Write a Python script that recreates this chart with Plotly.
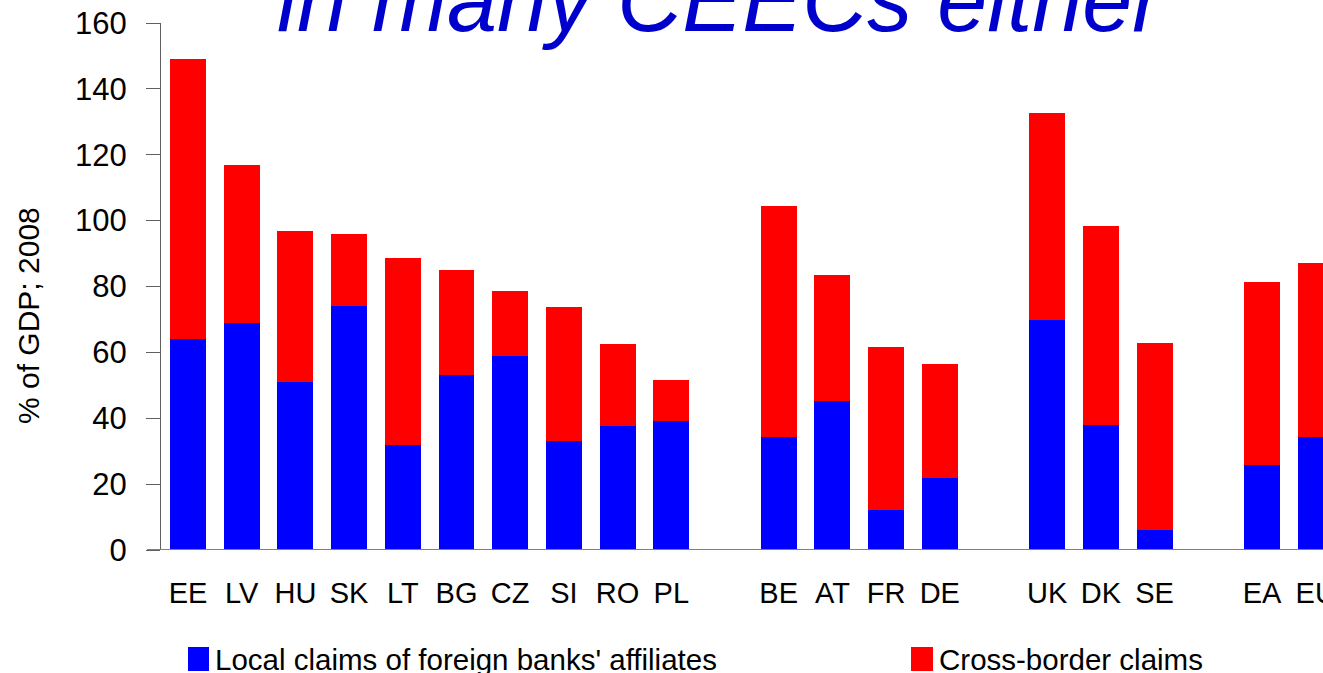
import plotly.graph_objects as go

# ---- data ----
groups = [
    ["EE", "LV", "HU", "SK", "LT", "BG", "CZ", "SI", "RO", "PL"],
    ["BE", "AT", "FR", "DE"],
    ["UK", "DK", "SE"],
    ["EA", "EU"],
]
local_claims = [64, 69, 51, 74, 32, 53, 59, 33, 37.6, 39.2,
                34.3, 45.2, 12.1, 21.9,
                69.8, 37.9, 6.1,
                25.8, 34.3]
cross_border = [85, 48, 46, 22, 56.6, 32, 19.6, 40.8, 24.9, 12.4,
                70.1, 38.3, 49.5, 34.6,
                62.9, 60.5, 56.7,
                55.6, 52.8]
y_ticks = [0, 20, 40, 60, 80, 100, 120, 140, 160]

series_names = ["Local claims of foreign banks' affiliates", "Cross-border claims"]
colors = ["#0000FF", "#FF0000"]

# ---- positions: one empty slot between groups ----
countries, xpos = [], []
p = 0
for g in groups:
    for c in g:
        countries.append(c)
        xpos.append(p)
        p += 1
    p += 1

W, H = 1323, 673
L, R, T, B = 161, 0, 23, 123
pw, ph = W - L - R, H - T - B

def px_x(px):
    return (px - L) / pw

def px_y(py):
    return 1 - (py - T) / ph

FONT = "Arial, Liberation Sans, sans-serif"

fig = go.Figure()
fig.add_trace(go.Bar(x=xpos, y=local_claims, name=series_names[0],
                     marker=dict(color=colors[0], line=dict(width=0)), width=0.67,
                     showlegend=False))
fig.add_trace(go.Bar(x=xpos, y=cross_border, name=series_names[1],
                     marker=dict(color=colors[1], line=dict(width=0)), width=0.67,
                     showlegend=False))

slot = 53.7
x0 = (161 - 188) / slot
x1 = (1323 - 188) / slot

fig.update_layout(
    barmode="stack",
    width=W, height=H,
    margin=dict(l=L, r=R, t=T, b=B, pad=0, autoexpand=False),
    plot_bgcolor="white", paper_bgcolor="white",
    font=dict(family=FONT, color="black"),
    xaxis=dict(range=[x0, x1], tickmode="array", tickvals=xpos, ticktext=countries,
               showgrid=False, zeroline=False, showline=False, ticks="",
               automargin=False,
               tickfont=dict(size=29, family=FONT, color="black"),
               ticklabelstandoff=23, ticklabeloverflow="allow"),
    yaxis=dict(range=[0, 160], tickvals=y_ticks, showgrid=False, zeroline=False,
               showline=True, linecolor="#606060", linewidth=1,
               ticks="outside", ticklen=14, tickcolor="#606060", tickwidth=1,
               automargin=False,
               tickfont=dict(size=31, family=FONT, color="black"),
               ticklabelstandoff=13),
)

# x axis baseline (gray, extends left past the y axis)
fig.add_shape(type="line", xref="paper", yref="y", x0=px_x(147), x1=1, y0=0, y1=0,
              line=dict(color="#808080", width=2), layer="above")

# title (partly cut off at the top)
fig.add_annotation(text="in many CEECs either", xref="paper", yref="paper",
                   x=px_x(275), y=px_y(52), xanchor="left", yanchor="bottom",
                   showarrow=False,
                   font=dict(size=90, family=FONT, color="#0000CC", style="italic"))

# y axis title
fig.add_annotation(text="% of GDP; 2008", xref="paper", yref="paper",
                   x=px_x(28), y=px_y(316), xanchor="center", yanchor="middle",
                   textangle=-90, showarrow=False,
                   font=dict(size=30, family=FONT, color="black"))

# manual legend
leg = [(188, 209, 215), (911, 933, 939)]
for (bx0, bx1, tx), name, col in zip(leg, series_names, colors):
    fig.add_shape(type="rect", xref="paper", yref="paper",
                  x0=px_x(bx0), x1=px_x(bx1), y0=px_y(671), y1=px_y(647),
                  fillcolor=col, line=dict(width=0))
    fig.add_annotation(text=name, xref="paper", yref="paper",
                       x=px_x(tx - 2), y=px_y(659), xanchor="left", yanchor="middle",
                       showarrow=False, font=dict(size=29.5, family=FONT, color="black"))

fig.write_html("out.html", config={"displayModeBar": False},
               post_script="document.body.style.margin='0px';")
